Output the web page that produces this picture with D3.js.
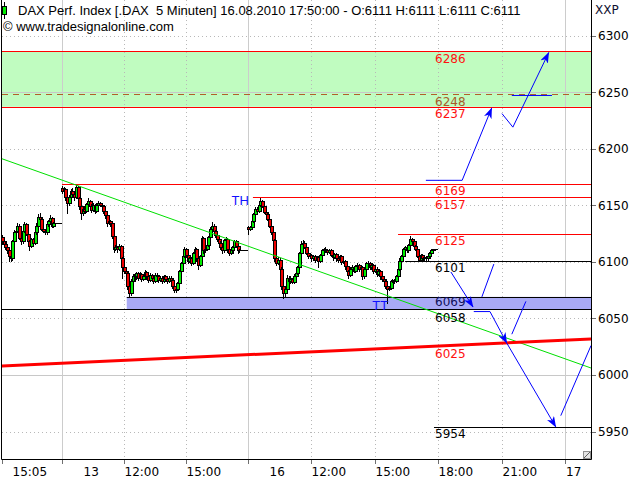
<!DOCTYPE html>
<html><head><meta charset="utf-8">
<script src="https://cdn.jsdelivr.net/npm/d3@7"></script>
<style>
html,body{margin:0;padding:0;background:#fff;}
svg{display:block;}
text{white-space:pre;}
</style></head><body>
<svg id="c" width="640" height="480"></svg>
<script>
// ================= DATA =================
const title = "DAX Perf. Index [.DAX  5 Minuten] 16.08.2010 17:50:00 - O:6111 H:6111 L:6111 C:6111";
const copyright = "\u00a9 www.tradesignalonline.com";
const unitLabel = "XXP";

// sessions (5-minute bars)
const sessionDay = ["12.08", "13.08", "16.08"];
const sessionFirst = ["15:05", "09:00", "09:00"];

const open12 = [6122,6118,6116,6113,6110,6105,6103,6118,6126,6127,6132,6121,6118,6127,6133,6125,6118,6114,6120,6117,6126,6132,6140,6138,6129,6127,6126,6133,6136,6139,6132,6134,6134,6134];
const high12 = [6124,6120,6118,6115,6111,6107,6119,6128,6130,6134,6133,6123,6128,6135,6134,6126,6119,6121,6121,6127,6134,6142,6143,6139,6130,6129,6134,6137,6141,6140,6135,6134,6134,6134];
const low12  = [6116,6114,6111,6108,6101,6101,6102,6117,6125,6126,6120,6116,6117,6126,6124,6117,6110,6113,6115,6116,6125,6131,6137,6128,6126,6125,6125,6132,6135,6131,6131,6134,6134,6134];
const close12= [6118,6116,6113,6110,6105,6103,6118,6126,6127,6132,6121,6118,6127,6133,6125,6118,6114,6120,6117,6126,6132,6140,6138,6129,6127,6126,6133,6136,6139,6132,6134,6134,6134,6134];

const open13 = [6165,6163,6164,6157,6152,6157,6163,6160,6157,6166,6156,6149,6143,6147,6145,6151,6154,6149,6146,6150,6145,6150,6152,6150,6149,6145,6141,6134,6136,6134,6123,6111,6113,6111,6114,6103,6095,6092,6090,6079,6072,6083,6087,6087,6090,6086,6089,6085,6087,6091,6087,6084,6088,6086,6083,6088,6087,6084,6086,6083,6087,6085,6083,6086,6084,6079,6075,6076,6081,6092,6099,6105,6111,6106,6101,6103,6099,6108,6111,6103,6097,6105,6121,6110,6111,6115,6122,6129,6132,6127,6124,6120,6117,6113,6110,6119,6120,6111,6108,6110,6113,6118,6114,6110,6110,6110,6110];
const high13 = [6167,6166,6165,6158,6159,6164,6165,6161,6168,6167,6157,6150,6149,6149,6152,6156,6155,6151,6152,6151,6152,6154,6153,6152,6150,6146,6142,6137,6137,6135,6124,6115,6114,6116,6115,6104,6096,6094,6091,6080,6085,6089,6089,6091,6091,6091,6090,6088,6093,6092,6088,6090,6089,6087,6090,6090,6088,6087,6087,6088,6088,6086,6087,6087,6085,6080,6078,6082,6093,6100,6106,6113,6112,6107,6104,6104,6109,6113,6112,6104,6106,6123,6122,6112,6116,6123,6131,6135,6133,6128,6125,6121,6118,6114,6120,6122,6121,6112,6111,6114,6119,6119,6115,6111,6110,6110,6110];
const low13  = [6161,6161,6155,6143,6150,6155,6158,6155,6156,6154,6147,6138,6141,6143,6144,6149,6147,6144,6145,6143,6144,6148,6149,6147,6143,6139,6132,6133,6132,6121,6109,6110,6109,6110,6101,6086,6090,6087,6076,6069,6071,6081,6084,6085,6084,6085,6083,6084,6085,6085,6082,6083,6084,6081,6082,6085,6082,6083,6081,6082,6083,6081,6082,6080,6077,6073,6073,6075,6080,6090,6098,6104,6104,6099,6100,6097,6098,6106,6101,6094,6096,6104,6108,6109,6110,6114,6121,6128,6126,6122,6118,6115,6111,6108,6109,6118,6109,6106,6107,6109,6112,6113,6108,6109,6110,6110,6110];
const close13= [6163,6164,6157,6152,6157,6163,6160,6157,6166,6156,6149,6143,6147,6145,6151,6154,6149,6146,6150,6145,6150,6152,6150,6149,6145,6141,6134,6136,6134,6123,6111,6113,6111,6114,6103,6095,6092,6090,6079,6072,6083,6087,6087,6090,6086,6089,6085,6087,6091,6087,6084,6088,6086,6083,6088,6087,6084,6086,6083,6087,6085,6083,6086,6084,6079,6075,6076,6081,6092,6099,6105,6111,6106,6101,6103,6099,6108,6111,6103,6097,6105,6121,6110,6111,6115,6122,6129,6132,6127,6124,6120,6117,6113,6110,6119,6120,6111,6108,6110,6113,6118,6114,6110,6110,6110,6110,6110];

const open16 = [6131,6129,6131,6136,6142,6147,6145,6150,6154,6149,6144,6142,6138,6132,6126,6119,6103,6099,6102,6094,6079,6072,6076,6086,6083,6085,6082,6087,6090,6095,6108,6116,6117,6113,6108,6105,6106,6103,6105,6102,6104,6101,6106,6110,6111,6110,6109,6110,6106,6104,6107,6103,6102,6105,6100,6101,6096,6092,6088,6094,6095,6092,6096,6097,6094,6095,6087,6094,6099,6099,6095,6097,6092,6094,6089,6092,6087,6085,6083,6079,6076,6077,6083,6084,6083,6087,6094,6101,6105,6111,6113,6110,6115,6120,6118,6114,6111,6105,6102,6106,6103,6104,6103,6105,6108,6110,6111];
const high16 = [6132,6132,6137,6143,6148,6148,6151,6156,6155,6150,6145,6143,6139,6133,6127,6120,6105,6104,6103,6095,6080,6078,6088,6087,6087,6086,6089,6091,6096,6109,6118,6119,6118,6114,6109,6107,6107,6106,6106,6105,6105,6107,6111,6112,6113,6111,6111,6111,6107,6108,6108,6104,6106,6106,6102,6102,6097,6093,6095,6097,6096,6097,6099,6098,6096,6096,6095,6100,6101,6100,6098,6098,6095,6095,6093,6093,6088,6086,6084,6080,6078,6084,6085,6085,6088,6095,6103,6106,6112,6114,6114,6116,6123,6121,6119,6115,6112,6106,6107,6107,6105,6105,6106,6109,6111,6111,6111];
const low16  = [6125,6128,6130,6135,6141,6144,6144,6149,6148,6143,6141,6137,6131,6125,6118,6101,6097,6098,6093,6076,6068,6070,6075,6082,6081,6081,6081,6086,6089,6094,6107,6114,6112,6107,6103,6104,6101,6102,6100,6101,6095,6100,6105,6109,6109,6107,6108,6105,6102,6103,6101,6100,6101,6098,6099,6094,6090,6086,6087,6092,6091,6091,6095,6092,6093,6085,6086,6093,6097,6094,6094,6090,6091,6087,6088,6085,6083,6081,6077,6064,6075,6076,6082,6081,6082,6086,6093,6100,6104,6110,6109,6109,6114,6116,6113,6110,6104,6101,6101,6101,6102,6102,6102,6104,6107,6110,6111];
const close16= [6129,6131,6136,6142,6147,6145,6150,6154,6149,6144,6142,6138,6132,6126,6119,6103,6099,6102,6094,6079,6072,6076,6086,6083,6085,6082,6087,6090,6095,6108,6116,6117,6113,6108,6105,6106,6103,6105,6102,6104,6101,6106,6110,6111,6110,6109,6110,6106,6104,6107,6103,6102,6105,6100,6101,6096,6092,6088,6094,6095,6092,6096,6097,6094,6095,6087,6094,6099,6099,6095,6097,6092,6094,6089,6092,6087,6085,6083,6079,6076,6077,6083,6084,6083,6087,6094,6101,6105,6111,6113,6110,6115,6120,6118,6114,6111,6105,6102,6106,6103,6104,6103,6105,6108,6110,6111,6111];

// axes
const priceTicks = [5950, 6000, 6050, 6100, 6150, 6200, 6250, 6300];
const priceMajor = [6000, 6250];
const timeTickDay  = ["12.08","13.08","13.08","13.08","16.08","16.08","16.08","16.08","16.08","17.08"];
const timeTickTime = ["15:05","09:00","12:00","15:00","09:00","12:00","15:00","18:00","21:00","00:00"];
const timeTickLabel= ["15:05","13","12:00","15:00","16","12:00","15:00","18:00","21:00","17"];
const timeTickIsDay= [false,true,false,false,true,false,false,false,false,true];

// target zone
const zoneTop = 6286, zoneBottom = 6237, zoneMid = 6248;
// support band
const bandTop = 6069, bandBottom = 6058, bandFrom = ["13.08","12:08"];
// horizontal levels
const levelValues = [6286, 6237, 6169, 6157, 6125, 6101, 6058, 5954];
const levelFromDay  = [null, null, "13.08", "16.08", "16.08", "16.08", null, "16.08"];
const levelFromTime = [null, null, "09:00", "09:14", "16:06", "16:26", null, "17:48"];
const levelIsRed = [true, true, true, true, true, false, false, false];
// level labels
const labelValues = [6286, 6248, 6237, 6169, 6157, 6125, 6101, 6069, 6058, 6025, 5954];
const labelKinds  = ["r","m","r","r","r","r","k","b","k","r","k"];
// trend lines [day, time, price]
const greenTrend = [["12.08","14:59",6191.7], ["17.08","01:14",6006.1]];
const redTrend   = [["12.08","14:59",6007.9], ["17.08","01:14",6031.7]];
// projected paths [day, time, price]; last flag: arrowhead
const arrowPaths = [
  [[["16.08","17:25",6172],["16.08","19:08",6172],["16.08","20:32",6236]], true],
  [[["16.08","21:01",6231],["16.08","21:32",6219],["16.08","23:14",6285]], true],
  [[["16.08","21:29",6247],["16.08","23:23",6247]], false],
  [[["16.08","18:36",6091],["16.08","19:39",6060]], true],
  [[["16.08","20:04",6069],["16.08","20:38",6098]], false],
  [[["16.08","19:41",6056],["16.08","20:27",6056],["16.08","21:15",6028]], true],
  [[["16.08","21:29",6036],["16.08","22:09",6065]], false],
  [[["16.08","21:15",6028],["16.08","23:34",5954]], true],
  [[["16.08","23:48",5964],["17.08","01:14",6026]], false]
];
const thMark = ["TH", "16.08", "09:14", 6157];
const ttMark = ["TT", "16.08", "15:35", 6069];

// ================= CHART =================
const svg = d3.select("#c");
const L = 2, R = 591, T = 0, B = 459;

// trading calendar: sessions 09:00-18:00 compressed, future continuous
const dayBase = {"12.08": -73, "13.08": 35, "16.08": 143, "17.08": 431};
function slotOf(day, hm) {
  const p = hm.split(":").map(Number);
  return dayBase[day] + (p[0] * 60 + p[1] - 540) / 5;
}
const x = d3.scaleLinear().domain([0, 35, 143, 323]).range([2, 62, 248, 565]);
const y = d3.scaleLinear().domain([5950, 6300]).range([431.5, 35.5]);

const defs = svg.append("defs");
defs.append("clipPath").attr("id", "clip").append("rect")
  .attr("x", L).attr("y", T).attr("width", R - L).attr("height", B - T);
defs.append("marker").attr("id", "ah").attr("viewBox", "0 0 11 8")
  .attr("refX", 10.5).attr("refY", 4).attr("markerWidth", 11).attr("markerHeight", 8)
  .attr("markerUnits", "userSpaceOnUse").attr("orient", "auto")
  .append("path").attr("d", "M0,0 L11,4 L0,8 L3,4 Z").attr("fill", "#0000ff");

const g = svg.append("g").attr("clip-path", "url(#clip)");

// target zone
g.append("rect").attr("x", L).attr("width", R - L)
  .attr("y", y(zoneTop)).attr("height", y(zoneBottom) - y(zoneTop)).attr("fill", "#c0fcc0");

// grid
priceTicks.forEach(v => {
  const yy = Math.round(y(v)) + 0.5;
  const major = priceMajor.includes(v);
  g.append("line").attr("x1", L).attr("x2", R).attr("y1", yy).attr("y2", yy)
    .attr("stroke", major ? "#c8c8c8" : "#b8b8b8")
    .attr("stroke-dasharray", major ? null : "1,3");
});
timeTickTime.forEach((t, i) => {
  const xx = Math.round(x(slotOf(timeTickDay[i], t))) + 0.5;
  if (i === 0) return;
  g.append("line").attr("x1", xx).attr("x2", xx).attr("y1", T).attr("y2", B)
    .attr("stroke", timeTickIsDay[i] ? "#cccccc" : "#b8b8b8")
    .attr("stroke-dasharray", timeTickIsDay[i] ? null : "1,3");
});

// support band
const bx0 = x(slotOf(bandFrom[0], bandFrom[1]));
g.append("rect").attr("x", bx0).attr("width", R - bx0)
  .attr("y", y(bandTop)).attr("height", y(bandBottom) - y(bandTop)).attr("fill", "#a9aaf6");
g.append("line").attr("x1", bx0).attr("x2", R)
  .attr("y1", Math.round(y(bandTop)) + 0.5).attr("y2", Math.round(y(bandTop)) + 0.5).attr("stroke", "#000");

// candles
const sessions = [
  [open12, high12, low12, close12],
  [open13, high13, low13, close13],
  [open16, high16, low16, close16]
];
const bars = [];
sessions.forEach((s, d) => {
  const s0 = slotOf(sessionDay[d], sessionFirst[d]);
  s[3].forEach((c, i) => bars.push({s: s0 + i, o: s[0][i], h: s[1][i], l: s[2][i], c: c}));
});
const gc = g.append("g").attr("shape-rendering", "crispEdges");
bars.forEach(b => {
  const cx = Math.round(x(b.s) + 1);
  const yh = Math.round(y(b.h)), yl = Math.round(y(b.l));
  const yt = Math.round(y(Math.max(b.o, b.c))), yb = Math.round(y(Math.min(b.o, b.c)));
  if (yl > yh) {
    gc.append("line").attr("x1", cx - 0.5).attr("x2", cx - 0.5).attr("y1", yh).attr("y2", yl + 1).attr("stroke", "#000");
  }
  if (yb - yt < 1) {
    gc.append("line").attr("x1", cx - 2).attr("x2", cx + 2).attr("y1", yt + 0.5).attr("y2", yt + 0.5).attr("stroke", "#000");
  } else {
    gc.append("rect").attr("x", cx - 1.5).attr("y", yt + 0.5).attr("width", 3).attr("height", yb - yt)
      .attr("fill", b.c >= b.o ? "#00ee00" : "#ee0000").attr("stroke", "#000");
  }
});

// zone mid dashed line
g.append("line").attr("x1", L).attr("x2", R)
  .attr("y1", Math.round(y(zoneMid)) + 0.5).attr("y2", Math.round(y(zoneMid)) + 0.5)
  .attr("stroke", "#b0602a").attr("stroke-dasharray", "6,5");

// levels
levelValues.forEach((v, i) => {
  const x0 = levelFromDay[i] ? x(slotOf(levelFromDay[i], levelFromTime[i])) : L;
  const yy = Math.round(y(v)) + 0.5;
  g.append("line").attr("x1", x0).attr("x2", R).attr("y1", yy).attr("y2", yy)
    .attr("stroke", levelIsRed[i] ? "#ff0000" : "#000000");
});

// trend lines
const ptX = p => x(slotOf(p[0], p[1]));
const ptY = p => y(p[2]);
g.append("line").attr("x1", ptX(greenTrend[0])).attr("y1", ptY(greenTrend[0]))
  .attr("x2", ptX(greenTrend[1])).attr("y2", ptY(greenTrend[1])).attr("stroke", "#00e000").attr("stroke-width", 1);
g.append("line").attr("x1", ptX(redTrend[0])).attr("y1", ptY(redTrend[0]))
  .attr("x2", ptX(redTrend[1])).attr("y2", ptY(redTrend[1])).attr("stroke", "#ff0000").attr("stroke-width", 3);

// arrows
const lineGen = d3.line().x(ptX).y(ptY);
arrowPaths.forEach(a => {
  g.append("path").attr("d", lineGen(a[0])).attr("fill", "none").attr("stroke", "#0000ff").attr("stroke-width", 1)
    .attr("marker-end", a[1] ? "url(#ah)" : null);
});

// level labels
const labelColor = {r: "#ff1010", m: "#a85a2a", k: "#000000", b: "#10105a"};
const labelShift = {6069: -2, 6058: 1};
const lx = Math.round(x(slotOf("16.08", "17:50")));
labelValues.forEach((v, i) => {
  svg.append("text").attr("x", lx).attr("y", y(v) + 11.5 + (labelShift[v] || 0))
    .attr("font-family", "DejaVu Sans").attr("font-size", "12px")
    .attr("fill", labelColor[labelKinds[i]]).text(String(v));
});

// TH / TT
svg.append("text").attr("x", x(slotOf(thMark[1], thMark[2])) - 4).attr("y", y(thMark[3]) + 8)
  .attr("text-anchor", "end").attr("font-family", "Liberation Sans").attr("font-size", "13px")
  .attr("fill", "#1010ff").text(thMark[0]);
svg.append("text").attr("x", x(slotOf(ttMark[1], ttMark[2])) + 1).attr("y", y(ttMark[3]) + 13)
  .attr("text-anchor", "end").attr("font-family", "Liberation Sans").attr("font-size", "13px")
  .attr("fill", "#1010ff").text(ttMark[0]);

// frame
svg.append("path").attr("d", `M${L - 0.5},${T} V${B + 0.5} H${R + 0.5} V${T}`)
  .attr("fill", "none").attr("stroke", "#000");

// resize icon
svg.append("rect").attr("x", 583.5).attr("y", 451.5).attr("width", 7).attr("height", 7)
  .attr("fill", "#e4e4e4").attr("stroke", "#909090");
svg.append("line").attr("x1", 584).attr("y1", 458).attr("x2", 590).attr("y2", 452).attr("stroke", "#606060");

// right axis
priceTicks.forEach(v => {
  const yy = Math.round(y(v)) + 0.5;
  svg.append("line").attr("x1", R + 1).attr("x2", R + 5).attr("y1", yy).attr("y2", yy).attr("stroke", "#707070");
  svg.append("text").attr("x", 598).attr("y", y(v) + 4.5)
    .attr("font-family", "DejaVu Sans").attr("font-size", "12px").attr("fill", "#000").text(String(v));
});
svg.append("text").attr("x", 595).attr("y", 14)
  .attr("font-family", "DejaVu Sans").attr("font-size", "12px").attr("fill", "#101030").text(unitLabel);

// bottom axis
timeTickTime.forEach((t, i) => {
  const xx = Math.round(x(slotOf(timeTickDay[i], t))) + 0.5;
  svg.append("line").attr("x1", xx).attr("x2", xx).attr("y1", B + 1).attr("y2", B + 5).attr("stroke", "#707070");
  let dx = timeTickIsDay[i] ? 21 : 0;
  if (i === 0) dx = 10;
  let tx = xx + dx;
  if (tx > 566) tx = 566;
  svg.append("text").attr("x", tx).attr("y", 476)
    .attr("font-family", "DejaVu Sans").attr("font-size", "12px").attr("fill", "#000").text(timeTickLabel[i]);
});

// header
svg.append("line").attr("x1", 4.5).attr("x2", 4.5).attr("y1", 2).attr("y2", 19).attr("stroke", "#000");
svg.append("rect").attr("x", 2.5).attr("y", 6.5).attr("width", 4).attr("height", 8)
  .attr("fill", "#00ee00").attr("stroke", "#000");
svg.append("text").attr("x", 18).attr("y", 15)
  .attr("font-family", "Liberation Sans").attr("font-size", "13px").attr("fill", "#000").text(title);
svg.append("text").attr("x", 3).attr("y", 31)
  .attr("font-family", "Liberation Sans").attr("font-size", "13px").attr("fill", "#000").text(copyright);
</script>
</body></html>
